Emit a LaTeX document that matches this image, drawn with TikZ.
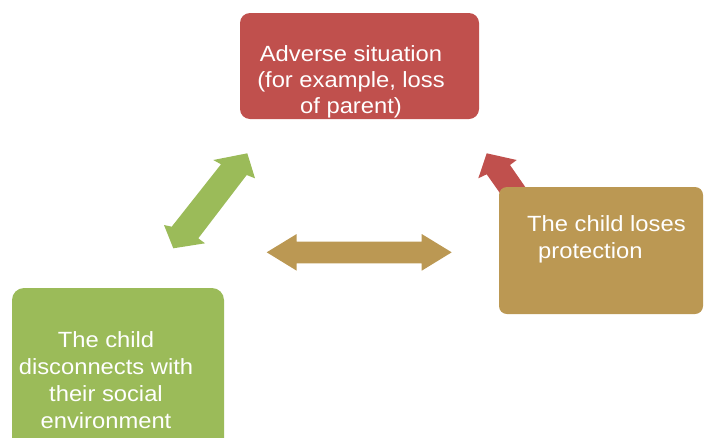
\documentclass[tikz,border=0pt]{standalone}
\usepackage{fontspec}
\setmainfont{Liberation Sans}[FakeStretch=1.08]
\definecolor{boxred}{RGB}{192,80,77}
\definecolor{boxgreen}{RGB}{155,187,89}
\definecolor{boxtan}{RGB}{187,152,83}
\begin{document}
\begin{tikzpicture}[x=1pt,y=-1pt,
  boxshape/.style={inner sep=0pt, outer sep=0pt, draw=none},
  txt/.style={text=white, font=\fontsize{22}{26}\selectfont, inner sep=0pt, anchor=base}]
\clip (0,0) rectangle (704,437);
% boxes (red and green)
\node[boxshape, fill=boxred, minimum width=239pt, minimum height=106pt, rounded corners=10pt] (adverse) at (359.5,66) {};
\node[boxshape, fill=boxgreen, minimum width=212pt, minimum height=162pt, rounded corners=12pt] (disconnect) at (118,369) {};
% red arrow (tail hidden behind tan box)
\coordinate (redtip) at (486.7,153.3);
\fill[boxred] (redtip) -- (516.7,160) -- (510,165) -- (544,214) -- (521,223) -- (486.7,174.3) -- (478.3,178.3) -- cycle;
% tan box
\node[boxshape, fill=boxtan, minimum width=204pt, minimum height=127pt, rounded corners=8pt] (loses) at (601,250.5) {};
% green double arrow
\coordinate (gtipA) at (247.3,153.3);
\coordinate (gtipB) at (173.3,248.3);
\fill[boxgreen] (gtipA) -- (255,178.3) -- (246.7,175) -- (198.3,238.3) -- (205,243.3) -- (gtipB) -- (164,225) -- (171.7,226.7) -- (221,164.3) -- (213.3,160) -- cycle;
% tan double arrow
\coordinate (ttipL) at (266.7,252.3);
\coordinate (ttipR) at (451.7,252.3);
\fill[boxtan] (ttipL) -- (296.7,234) -- (296.7,241.7) -- (421.7,241.7) -- (421.7,234) -- (ttipR) -- (421.7,270.7) -- (421.7,263.3) -- (296.7,263.3) -- (296.7,270.7) -- cycle;
% texts
\node[txt] (a1) at (351,61) {Adverse situation};
\node[txt] (a2) at (351,87) {(for example, loss};
\node[txt] (a3) at (351,113) {of parent)};
\node[txt] (d1) at (106,347) {The child};
\node[txt] (d2) at (106,374) {disconnects with};
\node[txt] (d3) at (106,401) {their social};
\node[txt] (d4) at (106,428) {environment};
\node[txt, anchor=base west] (l1) at (527,231) {The child loses};
\node[txt, anchor=base west] (l2) at (538,258) {protection};
\end{tikzpicture}
\end{document}
